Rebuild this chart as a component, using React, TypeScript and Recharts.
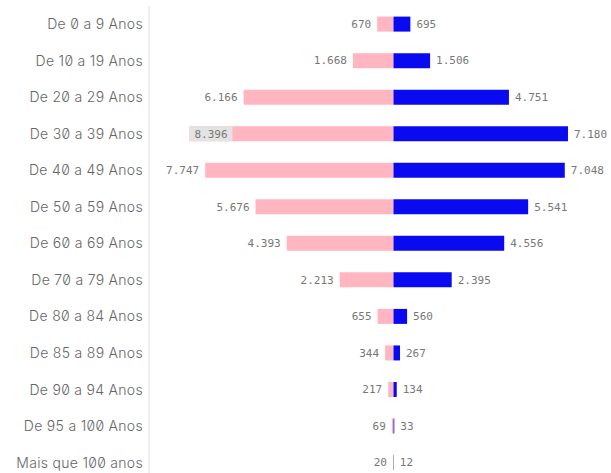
import React from "react";
import { BarChart, Bar, XAxis, YAxis, LabelList } from "recharts";

const categories = [
  "De 0 a 9 Anos",
  "De 10 a 19 Anos",
  "De 20 a 29 Anos",
  "De 30 a 39 Anos",
  "De 40 a 49 Anos",
  "De 50 a 59 Anos",
  "De 60 a 69 Anos",
  "De 70 a 79 Anos",
  "De 80 a 84 Anos",
  "De 85 a 89 Anos",
  "De 90 a 94 Anos",
  "De 95 a 100 Anos",
  "Mais que 100 anos",
];
const female = [670, 1668, 6166, 8396, 7747, 5676, 4393, 2213, 655, 344, 217, 69, 20];
const male = [695, 1506, 4751, 7180, 7048, 5541, 4556, 2395, 560, 267, 134, 33, 12];

const data = categories.map((c, i) => ({ cat: c, f: -female[i], m: male[i] }));

const PLOT_LEFT = 149;
const CHAR_W = 6.6;

const fmt = (v: number) => {
  const s = String(Math.round(Math.abs(v)));
  return s.replace(/\B(?=(\d{3})+(?!\d))/g, ".");
};

const labelFont = "'DejaVu Sans Mono', monospace";

const FemaleLabel = (props: any) => {
  const { x, y, width, height, value } = props;
  const left = Math.min(x, x + width);
  const txt = fmt(value);
  const tw = txt.length * CHAR_W;
  const cy = y + height / 2;
  if (left - tw - 12 < PLOT_LEFT) {
    return (
      <g>
        <rect x={left} y={y} width={tw + 10} height={height} fill="#e3e3e3" />
        <text x={left + 5} y={cy} dy="0.35em" textAnchor="start" fontSize={11} fill="#777" fontFamily={labelFont}>
          {txt}
        </text>
      </g>
    );
  }
  return (
    <text x={left - 6} y={cy} dy="0.35em" textAnchor="end" fontSize={11} fill="#777" fontFamily={labelFont}>
      {txt}
    </text>
  );
};

const MaleLabel = (props: any) => {
  const { x, y, width, height, value } = props;
  const right = Math.max(x, x + width);
  const txt = fmt(value);
  return (
    <text x={right + 6} y={y + height / 2} dy="0.35em" textAnchor="start" fontSize={11} fill="#777" fontFamily={labelFont}>
      {txt}
    </text>
  );
};

const CatTick = (props: any) => {
  const { x, y, payload } = props;
  return (
    <text
      x={x}
      y={y}
      dy="0.35em"
      textAnchor="end"
      fontSize={14}
      fontWeight={300}
      letterSpacing={0.3}
      fill="#666"
      fontFamily="Inter, 'Noto Sans', sans-serif"
      style={{ fontFeatureSettings: '"zero" 1' }}
    >
      {payload.value}
    </text>
  );
};

export default function App() {
  return (
    <div style={{ position: "absolute", left: 0, top: 0, width: 611, height: 481, background: "#fff" }}>
      <BarChart
        width={611}
        height={481}
        data={data}
        layout="vertical"
        stackOffset="sign"
        barCategoryGap="29%"
        margin={{ top: 6, right: 0, bottom: 0, left: 0 }}
      >
        <XAxis type="number" hide domain={[-10060, 8950]} allowDataOverflow />
        <YAxis
          type="category"
          dataKey="cat"
          width={149}
          axisLine={{ stroke: "#dcdcdc" }}
          tickLine={false}
          tickMargin={0}
          tick={<CatTick />}
          interval={0}
        />
        <Bar dataKey="f" stackId="a" fill="#ffb6c1" isAnimationActive={false}>
          <LabelList dataKey="f" content={<FemaleLabel />} />
        </Bar>
        <Bar dataKey="m" stackId="a" fill="#0a0af0" isAnimationActive={false}>
          <LabelList dataKey="m" content={<MaleLabel />} />
        </Bar>
      </BarChart>
    </div>
  );
}
